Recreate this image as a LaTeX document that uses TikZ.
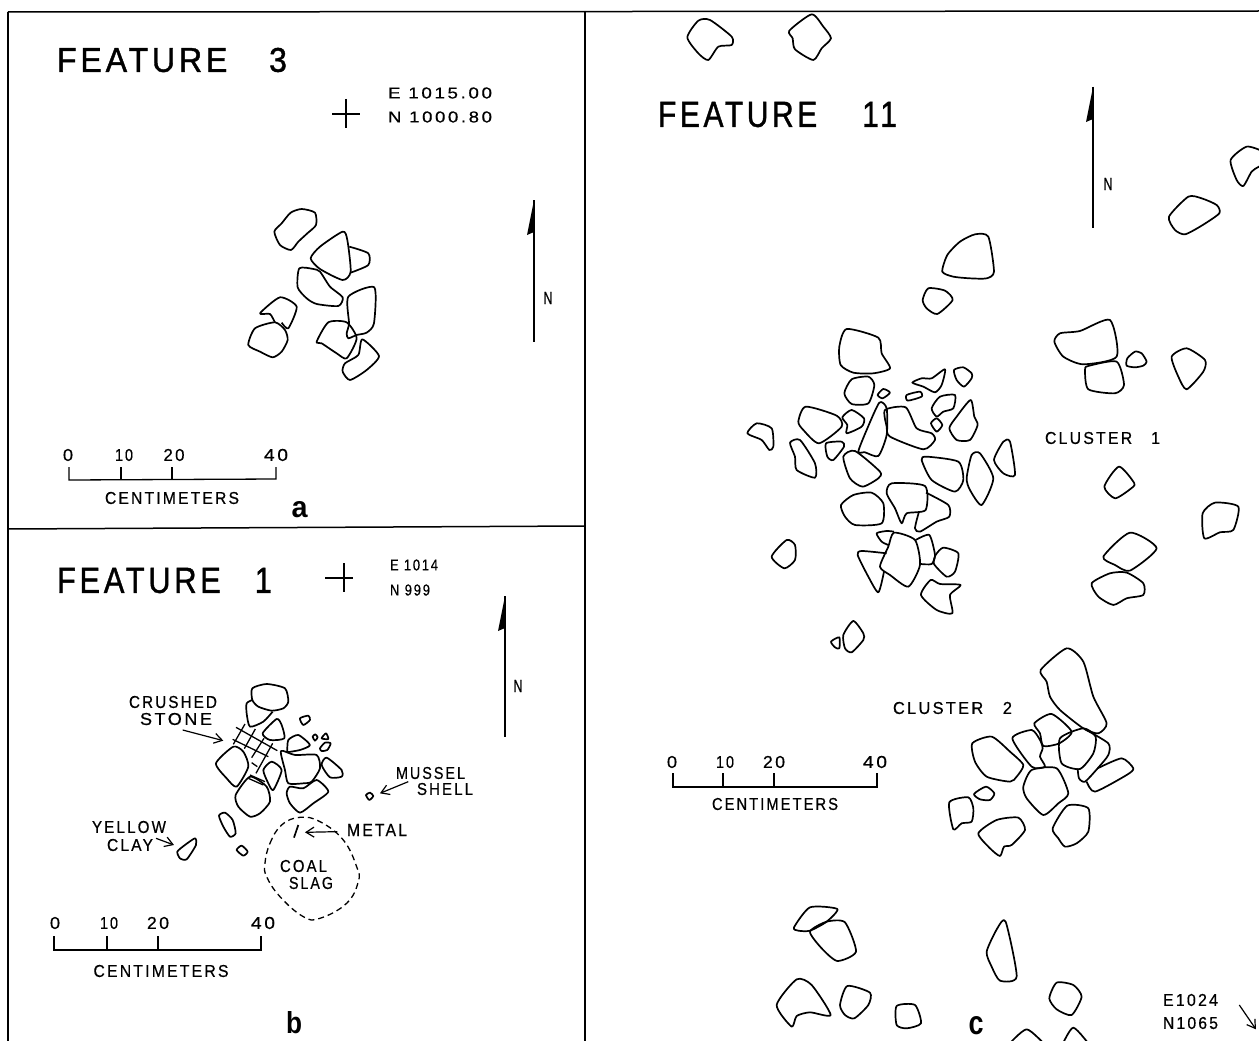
\documentclass[tikz,border=0pt]{standalone}
\usepackage{fontspec}
\usepackage{graphicx}
\usetikzlibrary{arrows.meta}
\setmainfont{Liberation Sans}
\newfontfamily\letfont[LetterSpace=14,FakeBold=0.6]{Liberation Sans}
\newfontfamily\bigfont[LetterSpace=12,FakeBold=1.2]{Liberation Sans}
\newcommand\fit[3]{\resizebox{#1pt}{#2pt}{\letfont #3}}
\newcommand\fitbig[3]{\resizebox{#1pt}{#2pt}{\bigfont #3}}
\newcommand\fitbold[3]{\resizebox{#1pt}{#2pt}{\bfseries #3}}
\tikzset{
  lab/.style={inner sep=0pt,outer sep=0pt,anchor=center},
  stone/.style={draw=black,line width=1.7pt,line join=round},
  rule/.style={draw=black,line width=1.5pt},
  scalebar/.style={draw=black,line width=1.3pt},
  leader/.style={draw=black,line width=1.2pt,-{Straight Barb[length=8pt,width=10pt]}},
  coal/.style={draw=black,line width=1.3pt,dash pattern=on 6pt off 4pt},
  hatch/.style={draw=black,line width=1.3pt}
}
\newcommand\st[1]{\path[stone] plot[smooth cycle,tension=0.4] coordinates {#1};}
\newcommand\so[1]{\path[stone] plot[smooth,tension=0.4] coordinates {#1};}
\newcommand\northarrow[3]{%
  \path[scalebar] (#1,#2) -- (#1,#3);
  \fill[black] (#1,#2) -- ({#1-7},{#2+35}) -- (#1,{#2+32}) -- cycle;}
\begin{document}
\begin{tikzpicture}[x=1pt,y=-1pt]
\path[use as bounding box,clip] (0,0) rectangle (1259,1041);
% frame
\path[rule] (8,12) -- (1259,11);
\path[rule] (8,12) -- (8,1041);
\path[rule] (585,11) -- (585,1041);
\path[rule] (8,529) -- (585,526);
% ---------- Feature 3
\node[lab] (f3) at (172,60) {\fitbig{230}{24}{FEATURE\hspace{1.3em}3}};
\path[scalebar] (332,114) -- (360,114) (346,99) -- (346,128);
\node[lab] (f3e) at (440,93) {\fit{104}{11}{E 1015.00}};
\node[lab] (f3n) at (440,117) {\fit{104}{11}{N 1000.80}};
\northarrow{534}{200}{342}
\node[lab] (f3N) at (548,298) {\fit{9}{12}{N}};
\begin{scope}[shift={(220,190)},scale=0.3333]
\st{(163,125) (185,100) (212,68) (245,57) (285,68) (288,105) (262,130) (235,155) (213,180) (180,165)}
\st{(272,205) (300,170) (368,125) (382,150) (392,245) (368,270) (300,237)}
\so{(388,170) (445,190) (445,225) (392,248)}
\st{(238,235) (280,237) (300,245) (330,290) (368,322) (355,348) (290,342) (260,325) (233,292)}
\so{(165,398) (150,372) (120,370) (180,322) (230,350) (205,415) (185,398)}
\st{(85,465) (105,415) (165,397) (195,420) (203,450) (185,485) (158,502) (120,485)}
\st{(290,455) (325,397) (380,397) (410,445) (380,505) (350,490) (305,460)}
\st{(385,320) (463,292) (462,400) (440,428) (410,435) (385,445) (380,430) (387,400)}
\st{(427,448) (477,498) (440,540) (390,570) (368,545) (375,520) (415,495)}
\end{scope}
\path[scalebar] (69,467) -- (69,480) -- (276,479) -- (276,467);
\path[scalebar] (121,467) -- (121,480) (172,467) -- (172,480);
\node[lab] (a0) at (68,455) {\fit{10}{12}{0}};
\node[lab] (a10) at (124,455) {\fit{18}{12}{10}};
\node[lab] (a20) at (174,455) {\fit{21}{12}{20}};
\node[lab] (a40) at (276,455) {\fit{24}{12}{40}};
\node[lab] (acm) at (172,498) {\fit{134}{12}{CENTIMETERS}};
\node[lab] (pa) at (299.5,510) {\fitbold{16}{16}{a}};
% ---------- Feature 1
\node[lab] (f1) at (164.5,580.5) {\fitbig{215}{25}{FEATURE\hspace{1.1em}1}};
\path[scalebar] (325,578) -- (353,578) (344,563) -- (344,592);
\node[lab] (f1e) at (414,565) {\fit{48}{11}{E 1014}};
\node[lab] (f1n) at (410,590) {\fit{40}{11}{N 999}};
\northarrow{505}{596}{737}
\node[lab] (f1N) at (518,686) {\fit{9}{12}{N}};
\begin{scope}[shift={(90,670)},scale=0.3333]
\st{(487,55) (530,42) (585,55) (595,95) (580,115) (545,122) (505,110) (487,90)}
\so{(487,90) (470,100) (470,130) (480,170) (520,155) (548,125)}
\st{(518,190) (560,147) (575,165) (583,205) (540,210)}
\so{(592,245) (595,210) (625,195) (660,225) (630,240) (590,247)}
\st{(573,243) (615,255) (680,255) (690,295) (665,335) (640,340) (595,340) (585,300)}
\st{(378,280) (430,230) (460,245) (475,290) (440,350) (410,325)}
\st{(437,375) (480,320) (530,350) (540,395) (510,430) (480,440) (445,410)}
\st{(520,300) (545,275) (575,300) (550,360) (535,340)}
\st{(590,370) (600,350) (640,355) (680,330) (715,365) (670,400) (630,428) (600,400)}
\st{(695,285) (710,263) (755,300) (755,320) (720,322)}
\st{(387,437) (405,428) (428,450) (437,490) (420,500) (400,470)}
\st{(440,540) (455,527) (473,545) (460,557)}
\st{(262,545) (285,525) (315,505) (318,525) (290,568) (270,565)}
\st{(630,145) (655,137) (660,150) (640,165)}
\st{(668,200) (676,193) (683,202) (675,212)}
\st{(695,205) (708,190) (715,207)}
\st{(690,235) (705,218) (722,220) (712,240) (695,243)}
\st{(828,375) (840,368) (850,378) (838,390)}
\path[stone] (625,465) -- (612,503);
\path[coal] plot[smooth cycle,tension=0.7] coordinates {(525,580) (540,520) (575,465) (630,442) (690,455) (760,510) (800,590) (805,635) (770,700) (690,745) (640,740) (570,680) (530,620)};
\coordinate (crushT) at (278,180); \coordinate (crushH) at (400,212);
\coordinate (musT) at (955,335); \coordinate (musH) at (870,370);
\coordinate (metT) at (742,485); \coordinate (metH) at (645,487);
\coordinate (yelT) at (198,505); \coordinate (yelH) at (252,525);
\end{scope}
\path[leader] (crushT) -- (crushH);
\path[leader] (musT) -- (musH);
\path[leader] (metT) -- (metH);
\path[leader] (yelT) -- (yelH);
\begin{scope}[shift={(200,710)},scale=0.3333]
\path[hatch] (135,42) -- (100,103) (166,57) -- (133,116) (192,85) -- (155,143) (218,100) -- (168,190);
\path[hatch] (108,52) -- (232,122) (98,88) -- (205,140) (155,158) -- (172,170) (150,195) -- (195,215) (145,205) -- (190,225);
\end{scope}
\node[lab] (crushed) at (173,702) {\fit{88}{12}{CRUSHED}};
\node[lab] (stonelab) at (176,719) {\fit{72}{12}{STONE}};
\node[lab] (mussel) at (430.5,773) {\fit{69}{12}{MUSSEL}};
\node[lab] (shell) at (445,789) {\fit{56}{12}{SHELL}};
\node[lab] (metal) at (377,830) {\fit{60}{12}{METAL}};
\node[lab] (yellow) at (129,827) {\fit{74}{12}{YELLOW}};
\node[lab] (clay) at (130,845) {\fit{46}{12}{CLAY}};
\node[lab] (coalt) at (303.5,866) {\fit{47}{12}{COAL}};
\node[lab] (slag) at (311,883) {\fit{44}{12}{SLAG}};
\path[scalebar] (54,936) -- (54,950) -- (261,950) -- (261,936);
\path[scalebar] (107,936) -- (107,950) (158,936) -- (158,950);
\node[lab] (b0) at (55,923) {\fit{10}{12}{0}};
\node[lab] (b10) at (109,923) {\fit{18}{12}{10}};
\node[lab] (b20) at (158,923) {\fit{22}{12}{20}};
\node[lab] (b40) at (263,923) {\fit{24}{12}{40}};
\node[lab] (bcm) at (161,971) {\fit{135}{12}{CENTIMETERS}};
\node[lab] (pb) at (294,1023) {\fitbold{16}{22}{b}};
% ---------- Feature 11
\node[lab] (f11) at (777.5,114.5) {\fitbig{239}{25}{FEATURE\hspace{1.5em}11}};
\northarrow{1093}{87}{228}
\node[lab] (f11N) at (1108,184) {\fit{9}{12}{N}};
\begin{scope}[shift={(640,0)},scale=0.3333]
\st{(142,112) (175,62) (210,60) (275,110) (275,135) (235,140) (205,180) (175,160)}
\st{(448,92) (515,43) (550,80) (573,115) (545,145) (520,180) (465,148) (458,115)}
\end{scope}
\begin{scope}[shift={(740,220)},scale=0.3333]
\st{(607,155) (622,105) (660,65) (705,43) (745,50) (762,155) (740,175) (690,175) (640,170)}
\st{(548,240) (565,205) (615,212) (638,240) (592,282) (560,265)}
\st{(298,380) (320,327) (415,353) (425,400) (450,445) (400,460) (340,458) (302,435)}
\st{(313,520) (335,478) (385,470) (403,495) (385,550) (335,552)}
\st{(413,525) (430,507) (450,518) (428,535)}
\st{(517,488) (545,475) (575,475) (615,448) (605,495) (585,517) (550,500)}
\st{(500,525) (540,515) (545,530) (503,542)}
\st{(642,450) (670,442) (695,460) (695,475) (672,500) (650,480)}
\st{(575,565) (600,530) (645,525) (640,565) (610,575) (590,590)}
\st{(175,605) (197,560) (290,587) (305,620) (237,670) (190,630)}
\st{(307,592) (335,570) (372,595) (365,620) (320,640) (322,615)}
\st{(355,695) (380,630) (418,548) (440,565) (440,645) (415,708) (375,697)}
\st{(435,570) (497,562) (530,625) (575,640) (585,660) (550,688) (450,650) (440,620)}
\st{(573,610) (590,595) (607,615) (590,635)}
\st{(628,625) (650,590) (692,540) (703,590) (713,615) (690,660) (650,660)}
\st{(22,640) (50,610) (95,625) (100,680) (88,690) (65,660)}
\end{scope}
\begin{scope}[shift={(740,440)},scale=0.3333]
\st{(150,8) (180,0) (225,70) (225,113) (170,90) (165,50)}
\st{(258,10) (305,5) (312,20) (280,60) (262,50)}
\st{(310,50) (345,33) (420,95) (415,115) (368,140) (330,115)}
\st{(545,60) (560,50) (655,65) (670,120) (645,155) (575,120)}
\st{(680,115) (695,45) (720,40) (760,115) (725,195) (690,150)}
\st{(762,60) (790,5) (810,5) (825,105) (790,100)}
\st{(303,195) (340,165) (395,158) (430,190) (425,250) (345,255) (315,230)}
\st{(440,160) (455,130) (555,138) (557,210) (500,220) (485,250) (465,205)}
\so{(558,158) (625,195) (628,230) (590,245) (540,275) (525,265) (537,215)}
\so{(445,315) (425,305) (410,280) (440,273) (462,275)}
\st{(420,380) (445,320) (462,278) (525,300) (540,375) (505,440) (450,405)}
\so{(527,300) (568,285) (585,345) (575,372) (542,372)}
\st{(587,345) (610,323) (655,340) (645,395) (620,410) (582,372)}
\so{(432,395) (415,457) (385,410) (353,345) (365,333) (440,340)}
\st{(543,465) (572,420) (600,432) (662,435) (630,465) (637,520) (590,510)}
\st{(95,350) (140,300) (165,315) (165,360) (133,385)}
\st{(310,585) (340,543) (370,580) (370,600) (335,637) (315,625)}
\st{(273,605) (298,592) (298,625) (285,622)}
\end{scope}
\begin{scope}[shift={(1020,130)},scale=0.3333]
\st{(632,90) (680,50) (730,65) (760,90) (717,110) (695,125) (670,168) (650,150)}
\st{(447,260) (505,200) (545,205) (590,225) (598,250) (545,287) (495,313) (465,300)}
\st{(103,635) (120,610) (180,603) (270,570) (290,680) (190,703) (130,680)}
\st{(195,720) (205,708) (290,695) (312,765) (285,790) (205,778)}
\st{(320,707) (322,685) (345,665) (365,670) (380,695) (370,707) (345,712)}
\st{(455,680) (500,655) (555,690) (550,725) (500,778) (475,740)}
\st{(253,1070) (297,1010) (343,1060) (330,1078) (285,1105)}
\st{(548,1150) (585,1118) (655,1130) (640,1200) (600,1207) (553,1225)}
\st{(250,1280) (330,1208) (410,1255) (330,1322) (285,1305)}
\st{(215,1360) (270,1330) (320,1328) (370,1360) (370,1395) (320,1405) (280,1425) (235,1400)}
\end{scope}
\node[lab] (cl1) at (1102.5,438) {\fit{115}{12}{CLUSTER\hspace{1.2em}1}};
\begin{scope}[shift={(930,640)},scale=0.3333]
\st{(332,90) (410,25) (460,65) (490,170) (530,250) (505,280) (460,265) (390,210) (360,170) (350,125)}
\st{(313,250) (365,222) (425,275) (388,310) (340,318) (330,280)}
\st{(247,295) (305,270) (330,300) (338,325) (330,350) (345,380) (305,380)}
\st{(390,295) (460,265) (497,290) (490,340) (450,387) (395,370)}
\so{(465,268) (535,310) (535,345) (503,385) (465,425) (447,415) (443,385)}
\st{(127,310) (185,290) (240,335) (280,375) (260,410) (240,425) (170,410) (135,365)}
\so{(470,425) (495,455) (590,405) (610,385) (575,355) (503,385)}
\st{(280,440) (305,390) (380,385) (415,460) (385,490) (340,525) (290,475)}
\st{(132,462) (168,440) (193,460) (180,480) (150,478)}
\st{(58,487) (115,472) (130,505) (125,545) (95,550) (70,568)}
\st{(145,580) (200,540) (265,533) (285,570) (245,615) (222,620) (210,648) (180,625)}
\st{(368,565) (412,497) (475,505) (475,575) (440,610) (405,620) (385,595)}
\end{scope}
\node[lab] (cl2) at (952.5,708) {\fit{119}{12}{CLUSTER\hspace{1.2em}2}};
\path[scalebar] (673,773) -- (673,787) -- (877,787) -- (877,773);
\path[scalebar] (723,773) -- (723,787) (774,773) -- (774,787);
\node[lab] (c0) at (672,762) {\fit{10}{12}{0}};
\node[lab] (c10) at (725,762) {\fit{18}{12}{10}};
\node[lab] (c20) at (774,762) {\fit{22}{12}{20}};
\node[lab] (c40) at (875,762) {\fit{24}{12}{40}};
\node[lab] (ccm) at (775,804) {\fit{126}{12}{CENTIMETERS}};
\begin{scope}[shift={(760,890)},scale=0.3333]
\st{(102,112) (150,52) (232,57) (200,95) (150,122) (115,122)}
\st{(150,125) (200,95) (255,97) (288,185) (232,213) (185,175)}
\st{(680,185) (712,115) (737,95) (770,260) (720,272) (695,230)}
\st{(50,345) (110,268) (155,285) (212,375) (150,367) (110,378) (95,410)}
\st{(240,345) (262,288) (330,308) (325,345) (283,385) (255,375)}
\st{(410,348) (465,345) (483,400) (440,415) (410,405)}
\st{(868,325) (890,278) (940,285) (965,320) (935,375) (890,358)}
\so{(740,470) (800,418) (860,470)}
\so{(900,480) (940,413) (1000,480)}
\coordinate (gridT) at (1438,345); \coordinate (gridH) at (1488,418);
\end{scope}
\path[leader] (gridT) -- (gridH);
\node[lab] (pc) at (976,1026) {\fitbold{15}{18}{c}};
\node[lab] (ce) at (1190.5,1000) {\fit{55}{12}{E1024}};
\node[lab] (cn) at (1190.5,1023) {\fit{55}{12}{N1065}};
\end{tikzpicture}
\end{document}
